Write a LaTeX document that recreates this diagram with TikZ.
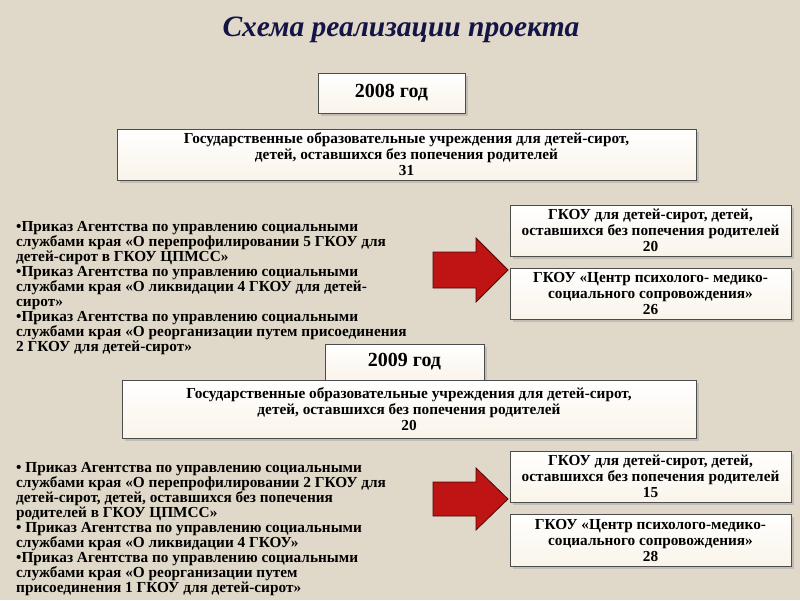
\documentclass[tikz,border=0pt]{standalone}
\usepackage{fontspec}
\setmainfont{Liberation Serif}
\usetikzlibrary{shadows}
\definecolor{bg}{RGB}{224,216,200}
\definecolor{boxfill}{RGB}{250,244,234}
\definecolor{arrowred}{RGB}{190,20,20}
\definecolor{titleblue}{RGB}{20,20,70}
\tikzset{
  card/.style={draw=black!70, line width=0.6pt, top color=white, bottom color=boxfill,
    drop shadow={shadow xshift=3pt, shadow yshift=-3pt, fill=black!35}},
  ctext/.style={font=\bfseries\fontsize{15.3}{16}\selectfont, align=center, inner sep=0pt},
  ltext/.style={font=\bfseries\fontsize{15.3}{15}\selectfont, align=left, anchor=north west, inner sep=0pt},
  yeartext/.style={font=\bfseries\fontsize{20}{22}\selectfont},
  bigarrow/.style={fill=arrowred, draw=black!60!arrowred, line width=0.8pt}
}
\begin{document}
\begin{tikzpicture}[x=1pt,y=-1pt]
\fill[bg] (0,0) rectangle (800,600);
\useasboundingbox (0,0) rectangle (800,600);
% title
\node (title) at (401,30) {\fontsize{29.5}{31}\selectfont\bfseries\itshape\color{titleblue}Схема  реализации проекта};
% 2008
\path[card] (318,73) rectangle (465,113);
\node[yeartext] (y2008) at (391.5,93) {2008 год};
\path[card] (117,129) rectangle (696,180);
\node[ctext] (big1) at (406.5,154.5) {Государственные образовательные учреждения для детей-сирот,\\ детей, оставшихся  без попечения родителей\\ 31};
\node[ltext] (list1) at (16,221) {•Приказ Агентства по управлению социальными\\ службами края «О перепрофилировании 5 ГКОУ для\\ детей-сирот в ГКОУ ЦПМСС»\\ •Приказ Агентства по управлению социальными\\ службами края «О ликвидации 4 ГКОУ для детей-\\ сирот»\\ •Приказ Агентства по управлению социальными\\ службами края «О реорганизации путем присоединения\\ 2 ГКОУ для детей-сирот»};
\path[card] (510,205) rectangle (791,256);
\node[ctext] (a1) at (650.5,230.5) {ГКОУ для детей-сирот, детей,\\ оставшихся  без попечения родителей\\ 20};
\path[card] (510,268) rectangle (791,319);
\node[ctext] (b1) at (650.5,293.5) {ГКОУ «Центр психолого- медико-\\ социального сопровождения»\\ 26};
\draw[bigarrow] (433,252) -- (476,252) -- (476,238) -- (508,270) -- (476,302) -- (476,288) -- (433,288) -- cycle;
% 2009
\path[card] (325,344) rectangle (484,381);
\node[yeartext] (y2009) at (404.5,362) {2009 год};
\path[card] (122,380) rectangle (696,438);
\node[ctext] (big2) at (409,409) {Государственные образовательные учреждения для детей-сирот,\\ детей, оставшихся  без попечения  родителей\\ 20};
\node[ltext] (list2) at (16,462) {• Приказ Агентства по управлению социальными\\ службами  края «О перепрофилировании 2 ГКОУ для\\ детей-сирот, детей, оставшихся без попечения\\ родителей в ГКОУ ЦПМСС»\\ • Приказ Агентства по управлению социальными\\ службами края «О ликвидации 4 ГКОУ»\\ •Приказ Агентства по управлению социальными\\ службами края «О реорганизации путем\\ присоединения 1 ГКОУ для детей-сирот»};
\path[card] (510,451) rectangle (791,502);
\node[ctext] (a2) at (650.5,476.5) {ГКОУ  для детей-сирот, детей,\\ оставшихся  без попечения родителей\\ 15};
\path[card] (510,514) rectangle (791,566);
\node[ctext] (b2) at (650.5,540) {ГКОУ «Центр психолого-медико-\\ социального сопровождения»\\ 28};
\draw[bigarrow] (433,482) -- (476,482) -- (476,468) -- (508,499) -- (476,530) -- (476,516) -- (433,516) -- cycle;
\end{tikzpicture}
\end{document}
